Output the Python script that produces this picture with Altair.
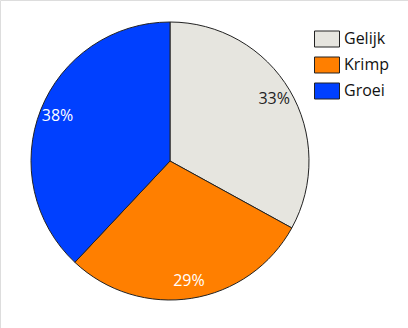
import altair as alt
import pandas as pd

categories = ["Gelijk", "Krimp", "Groei"]
values = [33, 29, 38]
labels = ["33%", "29%", "38%"]
colors = ["#e6e5df", "#ff7f00", "#0040ff"]

df = pd.DataFrame({
    "cat": categories,
    "val": values,
    "lab": labels,
    "idx": list(range(len(categories))),
})

base = alt.Chart(df).encode(
    theta=alt.Theta("val:Q", stack=True),
    order=alt.Order("idx:O", sort="ascending"),
    x=alt.value(170),
    y=alt.value(161),
)

pie = base.mark_arc(outerRadius=139, stroke="#222222", strokeWidth=1).encode(
    color=alt.Color(
        "cat:N",
        scale=alt.Scale(domain=categories, range=colors),
        sort=categories,
        legend=alt.Legend(
            title=None,
            orient="none",
            legendX=314,
            legendY=26,
            symbolType="M-1,-0.64H1V0.64H-1Z",
            symbolSize=625,
            symbolStrokeColor="#222222",
            symbolStrokeWidth=1,
            symbolOpacity=1,
            labelFont="Open Sans",
            labelFontSize=16,
            labelColor="#111111",
            rowPadding=3,
            labelOffset=4,
        ),
    )
)

text = base.mark_text(radius=121, font="Open Sans", fontSize=16).encode(
    text="lab:N",
    color=alt.condition(alt.datum.cat == "Gelijk", alt.value("#222222"), alt.value("#ffffff")),
)

chart = alt.layer(pie, text).properties(
    width=408, height=328, padding=0, autosize=alt.AutoSizeParams(type="none")
).configure_view(stroke=None).configure(background="white")

chart.save("out.html", embed_options={"renderer": "svg", "actions": False})
